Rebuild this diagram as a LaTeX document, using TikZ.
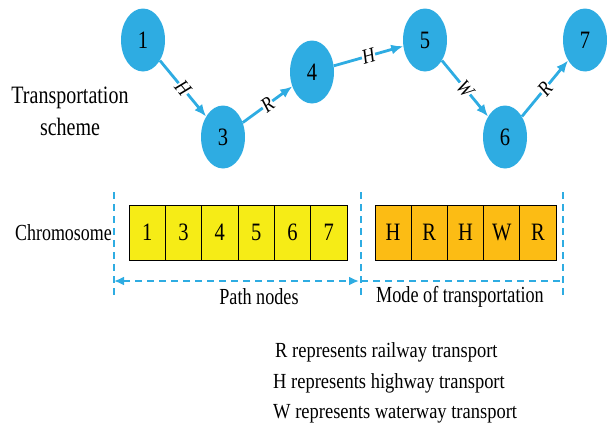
\documentclass[tikz,border=0pt]{standalone}
\usepackage{fontspec}
\setmainfont{Liberation Serif}
\usetikzlibrary{shapes.geometric,arrows.meta}
\definecolor{nodeblue}{RGB}{46,172,226}
\definecolor{boxyellow}{RGB}{246,236,22}
\definecolor{boxorange}{RGB}{252,188,20}
\newcommand{\sq}[2][0.82]{\scalebox{#1}[1]{#2}}
\begin{document}
\begin{tikzpicture}[x=1pt,y=-1pt,
  city/.style={ellipse, fill=nodeblue, minimum width=44pt, minimum height=63pt, inner sep=0pt, font=\fontsize{25}{26}\selectfont},
  route/.style={draw=nodeblue, line width=2.8pt, -{Latex[length=12pt,width=10pt]}},
  mode/.style={sloped, fill=white, inner sep=0.3pt, font=\fontsize{21}{21}\selectfont\itshape},
  gene/.style={draw=black, line width=0.8pt, minimum width=36.3pt, minimum height=55pt, inner sep=0pt, font=\fontsize{25}{26}\selectfont},
  pathgene/.style={gene, fill=boxyellow},
  modegene/.style={gene, fill=boxorange, minimum width=36.2pt},
  lbl/.style={inner sep=0pt, font=\fontsize{23}{26}\selectfont},
  legend/.style={inner sep=0pt, anchor=west, font=\fontsize{21.5}{24}\selectfont},
  divider/.style={draw=nodeblue, line width=2pt, dash pattern=on 7pt off 5pt},
  span/.style={divider, {Latex[length=10pt,width=9pt]}-{Latex[length=10pt,width=9pt]}}
]
\path[use as bounding box] (0,0) rectangle (607,431);

% transportation scheme
\node[align=center, inner sep=0pt, font=\fontsize{25}{32}\selectfont] (ts) at (70,111) {\sq[0.8]{Transportation}\\\sq[0.8]{scheme}};
\node[city] (n1) at (143,40) {\sq{1}};
\node[city] (n3) at (223,137) {\sq{3}};
\node[city] (n4) at (312,72) {\sq{4}};
\node[city] (n5) at (425,40) {\sq{5}};
\node[city] (n6) at (505,137) {\sq{6}};
\node[city] (n7) at (585,40) {\sq{7}};

\draw[route] (n1) -- node[mode] {\sq[0.85]{H}} (n3);
\draw[route] (n3) -- node[mode] {\sq[0.85]{R}} (n4);
\draw[route] (n4) -- node[mode] {\sq[0.85]{H}} (n5);
\draw[route] (n5) -- node[mode] {\sq[0.85]{W}} (n6);
\draw[route] (n6) -- node[mode] {\sq[0.85]{R}} (n7);

% chromosome
\node[lbl, anchor=east] (chr) at (112,233) {\sq[0.78]{Chromosome}};
\foreach \v [count=\i from 0] in {1,3,4,5,6,7}
  \node[pathgene] (p\i) at ({129+36.33*(\i+0.5)},232.5) {\sq{\v}};
\foreach \v [count=\i from 0] in {H,R,H,W,R}
  \node[modegene] (m\i) at ({375+36.2*(\i+0.5)},232.5) {\sq{\v}};

% dividers
\coordinate (lt) at (114,192);
\coordinate (lb) at (114,295);
\coordinate (mt) at (361,192);
\coordinate (mb) at (361,295);
\coordinate (rt) at (563,192);
\coordinate (rb) at (563,295);
\coordinate (la) at (114,281);
\coordinate (ma) at (359,281);
\coordinate (mm) at (361,281);
\coordinate (ra) at (563,281);
\draw[divider] (lt) -- (lb);
\draw[divider] (mt) -- (mb);
\draw[divider] (rt) -- (rb);
\draw[span] (la) -- (ma);
\draw[divider] (mm) -- (ra);

\node[lbl] (pn) at (259,297) {\sq[0.79]{Path nodes}};
\node[lbl] (mt2) at (460,297) {\sq[0.79]{Mode of transportation}};

% legend
\node[legend] (lr) at (275,352) {\sq[0.86]{R represents railway transport}};
\node[legend] (lh) at (273,383) {\sq[0.86]{H represents highway transport}};
\node[legend] (lw) at (273,414) {\sq[0.86]{W represents waterway transport}};
\end{tikzpicture}
\end{document}
